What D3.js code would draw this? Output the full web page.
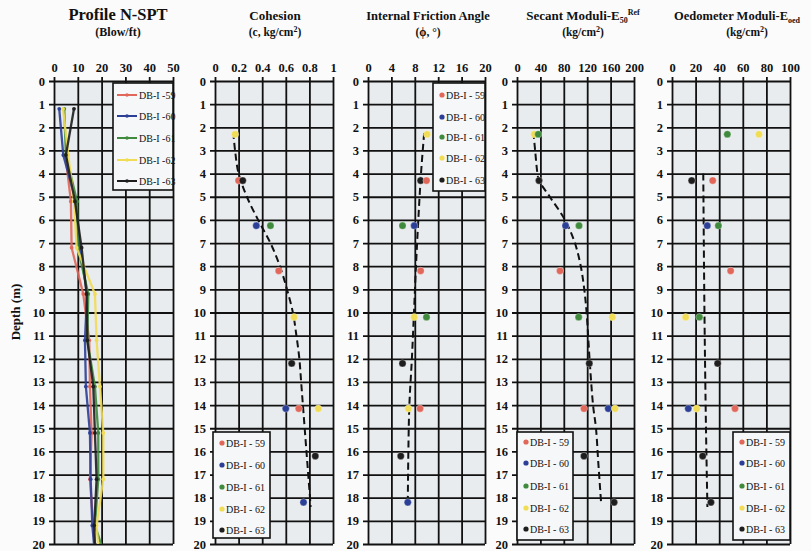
<!DOCTYPE html>
<html><head><meta charset="utf-8">
<script src="https://cdn.jsdelivr.net/npm/d3@7"></script>
<style>
body{margin:0;background:#fbfbfb;}
svg text{font-family:"Liberation Serif","Times New Roman",serif;fill:#111;}
</style></head><body>
<svg id="chart" width="811" height="551"></svg>
<script>
// Boreholes and their colours
const holes = ["DB-I-59", "DB-I-60", "DB-I-61", "DB-I-62", "DB-I-63"];
const holeColors = ["#e0675a", "#2c3f96", "#3f8a3c", "#f0dc55", "#1e1e1e"];

// Depth axis (m)
const depthTicks = d3.range(0, 21);

// SPT N-values (blow/ft) by depth
const sptDepth = [1.2, 3.2, 5.2, 7.2, 9.2, 11.2, 13.2, 15.2, 17.2, 19.2, 20];
const spt59 = [null, 4.8, 7.1, 7.4, 12.3, 14.8, 15.1, 15.8, 15.1, 16.5, 17.0];
const spt60 = [2.2, 3.9, 9.2, 10.9, 13.9, 13.0, 13.4, 15.1, 15.4, 16.1, 16.8];
const spt61 = [4.3, 5.0, 9.7, 10.0, 14.4, 14.0, 17.2, 18.6, 18.6, 17.2, 19.8];
const spt62 = [3.8, 6.0, 8.4, 9.5, 17.2, 17.9, 19.3, 20.7, 20.7, 17.9, 18.5];
const spt63 = [8.4, 5.0, 8.8, 11.6, 13.7, 14.0, 16.5, 17.2, 17.9, 16.9, 17.2];
const sptSeries = [spt59, spt60, spt61, spt62, spt63];

// Laboratory samples: [borehole, depth (m), value]
const cohesionSamples = [
  ["DB-I-62", 2.3, 0.17], ["DB-I-59", 4.3, 0.20], ["DB-I-63", 4.3, 0.235],
  ["DB-I-60", 6.25, 0.35], ["DB-I-61", 6.25, 0.47], ["DB-I-59", 8.2, 0.54],
  ["DB-I-62", 10.2, 0.67], ["DB-I-63", 12.2, 0.65], ["DB-I-60", 14.15, 0.60],
  ["DB-I-59", 14.15, 0.71], ["DB-I-62", 14.15, 0.875], ["DB-I-63", 16.2, 0.85],
  ["DB-I-60", 18.2, 0.75]
];
const frictionSamples = [
  ["DB-I-62", 2.3, 10.1], ["DB-I-63", 4.3, 9.0], ["DB-I-59", 4.3, 10.0],
  ["DB-I-61", 6.25, 5.9], ["DB-I-60", 6.25, 7.9], ["DB-I-59", 8.2, 9.0],
  ["DB-I-62", 10.2, 7.9], ["DB-I-61", 10.2, 10.0], ["DB-I-63", 12.2, 5.9],
  ["DB-I-62", 14.15, 6.9], ["DB-I-59", 14.15, 8.9], ["DB-I-63", 16.2, 5.6],
  ["DB-I-60", 18.2, 6.8]
];
const secantSamples = [
  ["DB-I-62", 2.3, 29.6], ["DB-I-61", 2.3, 36.4], ["DB-I-63", 4.3, 37.6],
  ["DB-I-60", 6.25, 83], ["DB-I-61", 6.25, 106], ["DB-I-59", 8.2, 73.5],
  ["DB-I-61", 10.2, 105.4], ["DB-I-62", 10.2, 163], ["DB-I-63", 12.2, 123.6],
  ["DB-I-59", 14.15, 114.5], ["DB-I-60", 14.15, 156], ["DB-I-62", 14.15, 167.5],
  ["DB-I-63", 16.2, 114.5], ["DB-I-63", 18.2, 166]
];
const oedometerSamples = [
  ["DB-I-61", 2.3, 46.9], ["DB-I-62", 2.3, 73.7], ["DB-I-63", 4.3, 16.7],
  ["DB-I-59", 4.3, 34.5], ["DB-I-60", 6.25, 29.9], ["DB-I-61", 6.25, 39.3],
  ["DB-I-59", 8.2, 49.7], ["DB-I-62", 10.2, 11.6], ["DB-I-61", 10.2, 23.2],
  ["DB-I-63", 12.2, 38.7], ["DB-I-60", 14.15, 13.8], ["DB-I-62", 14.15, 20.9],
  ["DB-I-59", 14.15, 53.4], ["DB-I-63", 16.2, 26], ["DB-I-63", 18.2, 33]
];

// Trend curves: [depth (m), value]
const cohesionTrend = [[2.2,0.155],[3,0.17],[4,0.2],[5,0.27],[6,0.365],[7,0.47],[8,0.55],[9,0.61],[10,0.66],[11,0.69],[12,0.715],[13,0.73],[14,0.745],[15,0.76],[16,0.775],[17,0.79],[18,0.805],[18.4,0.81]];
const frictionTrend = [[2.25,9.6],[4,9.06],[6,8.6],[8,8.2],[10,7.86],[12,7.5],[14,7.07],[16,6.9],[18.3,6.8]];
const secantTrend = [[2.2,28],[3,31],[4,35],[4.3,37.6],[5,56],[6,82],[7,99],[8,109],[9,115],[10,119],[12,124],[14,130],[15,135],[16.5,139],[18.3,144]];
const oedometerTrend = [[4,26.5],[10,27.5],[15,28.8],[18.4,30]];

// Horizontal axis ticks per panel
const sptTicks = [0, 10, 20, 30, 40, 50];
const cohesionTicks = [0, 0.2, 0.4, 0.6, 0.8, 1];
const frictionTicks = [0, 4, 8, 12, 16, 20];
const secantTicks = [0, 40, 80, 120, 160, 200];
const oedometerTicks = [0, 20, 40, 60, 80, 100];

const svg = d3.select("#chart");
const plotTop = 81, plotBottom = 544;
const y = d3.scaleLinear().domain([0, 20]).range([plotTop, plotBottom]);
const colorOf = d3.scaleOrdinal().domain(holes).range(holeColors);

const panels = [
  {x0: 54, x1: 173, ticks: sptTicks, fmt: d => d, cx: 116},
  {x0: 215, x1: 333, ticks: cohesionTicks, fmt: d => d === 0 || d === 1 ? String(d) : d.toFixed(1), cx: 275},
  {x0: 368, x1: 485, ticks: frictionTicks, fmt: d => d, cx: 428},
  {x0: 517, x1: 634, ticks: secantTicks, fmt: d => d, cx: 583},
  {x0: 672, x1: 790, ticks: oedometerTicks, fmt: d => d, cx: 735}
];

panels.forEach(p => {
  p.x = d3.scaleLinear().domain([p.ticks[0], p.ticks[p.ticks.length - 1]]).range([p.x0, p.x1]);
  const g = svg.append("g");
  g.append("rect").attr("x", p.x0).attr("y", plotTop).attr("width", p.x1 - p.x0).attr("height", plotBottom - plotTop)
    .attr("fill", "#e9ecee");
  // vertical grid + top tick labels
  const ax = g.append("g").attr("transform", `translate(0,${plotTop})`)
    .call(d3.axisTop(p.x).tickValues(p.ticks).tickFormat(p.fmt).tickSize(4).tickPadding(5));
  ax.select(".domain").remove();
  ax.selectAll(".tick line").attr("y2", plotBottom - plotTop).attr("y1", -4).attr("stroke", "#111").attr("stroke-width", 1.8);
  ax.selectAll(".tick text").attr("font-size", 12.5).attr("font-weight", "bold").attr("fill", "#111");
  // horizontal grid + depth labels
  const ay = g.append("g").attr("transform", `translate(${p.x0},0)`)
    .call(d3.axisLeft(y).tickValues(depthTicks).tickFormat(d => d).tickSize(5).tickPadding(4));
  ay.select(".domain").remove();
  ay.selectAll(".tick line").attr("x1", -5).attr("x2", p.x1 - p.x0).attr("stroke", "#111").attr("stroke-width", 1.8);
  ay.selectAll(".tick text").attr("font-size", 12.5).attr("font-weight", "bold").attr("fill", "#111");
});

// Titles
function title(p, main, sub) {
  const t = svg.append("text").attr("x", p.cx).attr("y", 20).attr("text-anchor", "middle")
    .attr("font-weight", "bold").attr("font-size", 13);
  main(t);
  const s = svg.append("text").attr("x", p.cx).attr("y", 36).attr("text-anchor", "middle")
    .attr("font-weight", "bold").attr("font-size", 11.5);
  sub(s);
}
title(panels[0], t => t.attr("font-size", 16.5).attr("x", 118).text("Profile N-SPT"), s => s.attr("x", 118).attr("font-size", 12).text("(Blow/ft)"));
title(panels[1], t => t.text("Cohesion"), s => { s.append("tspan").text("(c, kg/cm"); s.append("tspan").attr("font-size", 8).attr("dy", -4).text("2"); s.append("tspan").attr("dy", 4).text(")"); });
title(panels[2], t => t.attr("font-size", 12.5).text("Internal Friction Angle"), s => s.text("(ϕ, °)"));
title(panels[3], t => { t.append("tspan").text("Secant Moduli-E"); t.append("tspan").attr("font-size", 8).attr("dy", 3).text("50"); t.append("tspan").attr("font-size", 8).attr("dy", -8).text("Ref"); },
  s => { s.append("tspan").text("(kg/cm"); s.append("tspan").attr("font-size", 8).attr("dy", -4).text("2"); s.append("tspan").attr("dy", 4).text(")"); });
title(panels[4], t => { t.attr("x", 737).attr("font-size", 12.5); t.append("tspan").text("Oedometer Moduli-E"); t.append("tspan").attr("font-size", 8).attr("dy", 3).text("oed"); },
  s => { s.attr("x", 747); s.append("tspan").text("(kg/cm"); s.append("tspan").attr("font-size", 8).attr("dy", -4).text("2"); s.append("tspan").attr("dy", 4).text(")"); });

svg.append("text").attr("transform", "translate(20,312) rotate(-90)").attr("text-anchor", "middle")
  .attr("font-weight", "bold").attr("font-size", 13).text("Depth (m)");

// N-SPT profile lines
const p0 = panels[0];
svg.append("clipPath").attr("id", "clipSpt").append("rect")
  .attr("x", p0.x0).attr("y", plotTop).attr("width", p0.x1 - p0.x0).attr("height", plotBottom - plotTop);
const sptG = svg.append("g").attr("clip-path", "url(#clipSpt)");
sptSeries.forEach((vals, i) => {
  const pts = sptDepth.map((d, k) => [vals[k], d]).filter(v => v[0] != null);
  sptG.append("path").datum(pts)
    .attr("d", d3.line().x(v => p0.x(v[0])).y(v => y(v[1])))
    .attr("fill", "none").attr("stroke", holeColors[i]).attr("stroke-width", 2.3).attr("stroke-opacity", 0.9);
  sptG.selectAll(null).data(pts.filter(v => v[1] < 20)).enter().append("circle")
    .attr("cx", v => p0.x(v[0])).attr("cy", v => y(v[1])).attr("r", 1.9).attr("fill", holeColors[i]);
});

// Scatter panels with trend curves
function scatter(p, samples, trend) {
  const g = svg.append("g");
  g.append("path").datum(trend)
    .attr("d", d3.line().x(v => p.x(v[1])).y(v => y(v[0])).curve(d3.curveCatmullRom))
    .attr("fill", "none").attr("stroke", "#111").attr("stroke-width", 2).attr("stroke-dasharray", "7,4");
  g.selectAll(null).data(samples).enter().append("circle")
    .attr("cx", s => p.x(s[2])).attr("cy", s => y(s[1])).attr("r", 3.6)
    .attr("fill", s => colorOf(s[0])).attr("stroke", "#fff").attr("stroke-opacity", 0.5).attr("stroke-width", 0.6);
}
scatter(panels[1], cohesionSamples, cohesionTrend);
scatter(panels[2], frictionSamples, frictionTrend);
scatter(panels[3], secantSamples, secantTrend);
scatter(panels[4], oedometerSamples, oedometerTrend);

// Legends
function legend(x, yTop, w, h, rows, withLine, labelFmt) {
  const g = svg.append("g");
  g.append("rect").attr("x", x).attr("y", yTop).attr("width", w).attr("height", h)
    .attr("fill", "#f6f7f8").attr("stroke", "#111").attr("stroke-width", 1.6);
  holes.forEach((name, i) => {
    const ry = rows[i];
    if (withLine) {
      g.append("line").attr("x1", x + 4).attr("x2", x + 24).attr("y1", ry).attr("y2", ry)
        .attr("stroke", holeColors[i]).attr("stroke-width", 2);
      g.append("circle").attr("cx", x + 14).attr("cy", ry).attr("r", 1.8).attr("fill", holeColors[i]);
      g.append("text").attr("x", x + 26).attr("y", ry + 3.5).attr("font-size", 10).text(labelFmt(name));
    } else {
      g.append("circle").attr("cx", x + 9).attr("cy", ry).attr("r", 2.6).attr("fill", holeColors[i]);
      g.append("text").attr("x", x + 13).attr("y", ry + 3.5).attr("font-size", 10).text(labelFmt(name));
    }
  });
}
const spaced = n => n.replace("DB-I-", "DB-I - ");
legend(113, 83, 60, 107, [95, 116, 138, 160, 181], true, n => n.replace("DB-I-", "DB-I -"));
legend(213, 432, 57, 106, [443, 465, 487, 509, 530], false, spaced);
legend(433, 83, 52, 108, [95, 117, 137, 158, 180], false, spaced);
legend(517, 432, 56, 108, [442, 463, 486, 508, 529], false, spaced);
legend(733, 432, 57, 108, [442, 463, 486, 508, 529], false, spaced);
</script></body></html>
